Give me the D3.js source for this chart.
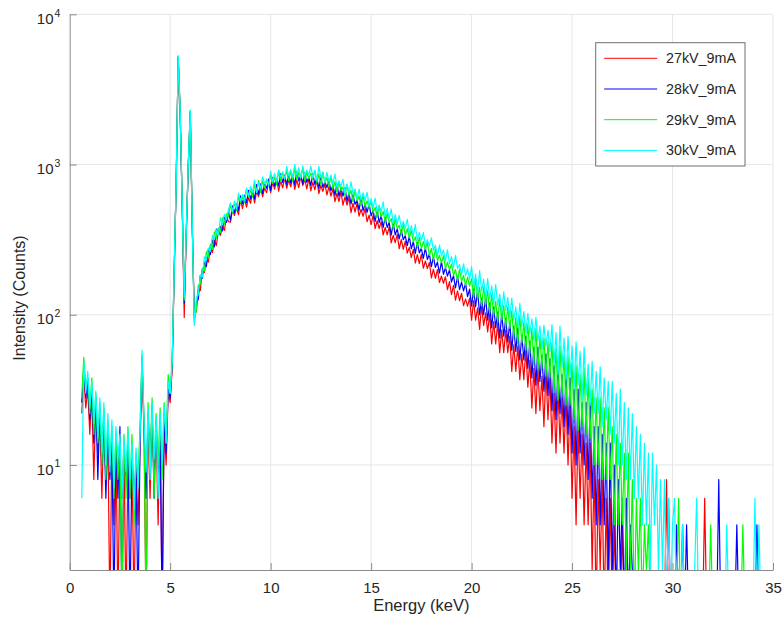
<!DOCTYPE html>
<html lang="en">
<head>
<meta charset="utf-8">
<title>Spectra</title>
<script src="https://cdn.jsdelivr.net/npm/d3@7"></script>
<style>
  body { margin: 0; background: #fff; }
  svg { display: block; background: #fff; font-family: "Liberation Sans", Arial, sans-serif; }
  .axis path, .axis line { stroke: #8a8a8a; }
  .grid line { stroke: #e6e6e6; }
</style>
</head>
<body>
<script>

// energy channels: 0.6 keV .. 35.0 keV, 0.1 keV apart
var energyStart = 0.6, energyStep = 0.1;

var seriesNames = ["27kV_9mA", "28kV_9mA", "29kV_9mA", "30kV_9mA"];
var seriesColors = ["#ff0000", "#0000ff", "#00ff00", "#00ffff"];

var counts27 = [
  22, 40, 24, 32,
  16, 30, 8, 26, 12, 22, 6, 20, 8, 16,
  0, 14, 4, 16, 0, 12, 6, 14, 0, 10,
  6, 12, 0, 10, 4, 14, 48, 16, 0, 20,
  6, 22, 8, 18, 4, 20, 0, 18, 10, 30,
  26, 44, 190, 760, 5100, 2100, 520, 96, 340, 960,
  2200, 380, 100, 105, 146, 145, 200, 191, 236, 224,
  282, 259, 313, 288, 374, 338, 391, 364, 448, 417,
  413, 503, 458, 519, 464, 585, 508, 593, 521, 603,
  551, 666, 556, 663, 612, 710, 608, 699, 650, 765,
  649, 757, 686, 804, 666, 778, 700, 820, 695, 792,
  711, 826, 683, 791, 702, 840, 724, 797, 689, 807,
  668, 764, 679, 789, 640, 726, 662, 744, 627, 712,
  616, 689, 566, 644, 567, 660, 537, 610, 537, 601,
  478, 553, 482, 554, 454, 504, 452, 509, 416, 461,
  398, 461, 374, 423, 375, 417, 340, 381, 340, 385,
  301, 338, 302, 343, 275, 317, 272, 309, 257, 281,
  240, 273, 221, 251, 219, 252, 204, 228, 203, 223,
  176, 201, 175, 200, 164, 181, 162, 179, 147, 166,
  136, 157, 125, 144, 124, 139, 115, 127, 114, 129,
  92, 124, 92, 111, 80, 115, 85, 103, 77, 101,
  64, 90, 64, 88, 56, 79, 56, 79, 56, 72,
  42, 63, 42, 62, 37, 55, 37, 58, 33, 50,
  24, 44, 22, 44, 23, 39, 18, 42, 20, 38,
  14, 30, 12, 32, 14, 28, 12, 28, 10, 26,
  6, 18, 4, 18, 6, 16, 4, 14, 4, 14,
  2, 10, 0, 8, 2, 8, 0, 6, 0, 6,
  0, 4, 0, 2, 0, 4, 0, 0, 2, 0,
  0, 0, 0, 0, 0, 0, 0, 0, 0, 0,
  0, 0, 0, 0, 0, 0, 0, 8, 0, 0,
  0, 0, 0, 0, 0, 0, 0, 0, 0, 0,
  0, 0, 0, 0, 0, 0, 6, 0, 0, 0,
  0, 0, 0, 0, 0, 0, 0, 0, 0, 0,
  0, 0, 0, 0, 0, 0, 0, 0, 0, 0,
  0, 0, 0, 0, 0, 0, 0, 0, 0, 0,
  0
];

var counts28 = [
  26, 44, 28, 36,
  20, 32, 14, 28, 8, 24, 10, 22, 6, 18,
  8, 16, 0, 14, 6, 18, 0, 12, 8, 14,
  0, 12, 6, 10, 0, 14, 52, 18, 6, 22,
  10, 24, 6, 20, 8, 18, 0, 22, 12, 32,
  28, 46, 195, 770, 5200, 2150, 530, 120, 350, 980,
  2250, 390, 95, 119, 127, 183, 175, 223, 209, 274,
  251, 314, 283, 372, 337, 387, 361, 455, 412, 482,
  427, 531, 479, 548, 496, 619, 548, 626, 557, 674,
  588, 671, 588, 734, 633, 744, 643, 741, 694, 801,
  671, 823, 718, 805, 720, 871, 757, 851, 735, 855,
  753, 861, 733, 897, 776, 852, 743, 879, 762, 824,
  725, 869, 737, 817, 695, 826, 704, 770, 702, 781,
  670, 730, 623, 742, 617, 700, 617, 703, 571, 649,
  546, 630, 544, 579, 497, 596, 494, 547, 480, 546,
  455, 494, 419, 496, 411, 459, 381, 447, 381, 412,
  339, 407, 340, 373, 320, 367, 316, 336, 289, 333,
  275, 307, 256, 303, 258, 277, 237, 279, 233, 254,
  209, 243, 207, 224, 189, 226, 186, 206, 181, 199,
  165, 182, 151, 180, 147, 165, 144, 162, 132, 148,
  114, 148, 113, 145, 100, 129, 100, 130, 92, 120,
  82, 113, 82, 104, 70, 103, 72, 95, 66, 89,
  58, 84, 57, 82, 50, 73, 50, 72, 44, 67,
  38, 61, 34, 61, 36, 54, 31, 55, 29, 51,
  23, 46, 20, 45, 22, 40, 18, 40, 16, 38,
  12, 32, 10, 32, 12, 26, 10, 26, 8, 26,
  6, 18, 4, 18, 4, 16, 4, 14, 2, 14,
  2, 10, 0, 8, 2, 6, 0, 6, 0, 4,
  2, 0, 0, 2, 0, 0, 0, 0, 0, 0,
  0, 0, 0, 0, 0, 0, 0, 0, 6, 0,
  0, 0, 4, 0, 0, 4, 0, 4, 0, 0,
  0, 0, 0, 0, 0, 0, 0, 0, 0, 0,
  0, 0, 0, 8, 0, 0, 0, 0, 0, 0,
  0, 0, 4, 0, 0, 0, 0, 0, 0, 0,
  0, 0, 4, 0, 0, 0, 0, 0, 0, 0,
  0
];

var counts29 = [
  28, 52, 34, 38,
  22, 38, 16, 30, 14, 26, 10, 24, 8, 20,
  10, 18, 6, 16, 8, 14, 0, 16, 6, 18,
  6, 16, 4, 12, 8, 18, 54, 20, 0, 26,
  10, 28, 6, 22, 10, 24, 8, 26, 14, 40,
  30, 48, 200, 775, 5250, 2180, 535, 125, 355, 990,
  2280, 395, 90, 108, 158, 161, 204, 195, 263, 243,
  295, 273, 356, 324, 378, 353, 442, 401, 470, 449,
  545, 472, 553, 495, 608, 558, 613, 561, 688, 606,
  679, 607, 737, 654, 781, 653, 774, 698, 785, 736,
  850, 749, 822, 734, 909, 768, 883, 805, 912, 781,
  906, 771, 945, 801, 889, 822, 940, 782, 890, 802,
  876, 802, 912, 755, 865, 735, 889, 750, 821, 717,
  837, 690, 769, 655, 773, 670, 708, 621, 731, 620,
  674, 568, 681, 572, 615, 533, 621, 525, 574, 514,
  571, 478, 519, 445, 532, 446, 487, 413, 474, 411,
  436, 373, 434, 374, 394, 340, 406, 336, 374, 324,
  366, 306, 330, 281, 327, 275, 308, 271, 304, 248,
  276, 231, 276, 229, 249, 222, 247, 203, 224, 199,
  218, 183, 200, 169, 201, 167, 183, 156, 178, 155,
  174, 130, 173, 127, 153, 114, 153, 117, 145, 103,
  137, 99, 123, 90, 127, 92, 115, 83, 113, 81,
  106, 71, 96, 64, 98, 65, 89, 58, 87, 55,
  81, 47, 81, 43, 72, 44, 70, 39, 66, 38,
  65, 31, 60, 27, 62, 29, 54, 25, 53, 25,
  48, 20, 46, 17, 40, 18, 44, 16, 38, 15,
  32, 10, 28, 10, 28, 8, 24, 8, 24, 8,
  18, 4, 16, 4, 14, 4, 12, 2, 12, 2,
  8, 0, 6, 2, 6, 0, 4, 2, 4, 0,
  2, 0, 0, 0, 0, 0, 0, 0, 0, 0,
  0, 0, 0, 6, 0, 0, 0, 0, 0, 0,
  0, 0, 0, 0, 0, 0, 0, 0, 0, 4,
  0, 0, 0, 0, 0, 0, 0, 0, 0, 0,
  0, 0, 0, 0, 0, 4, 0, 0, 0, 0,
  0, 0, 0, 0, 0, 0, 0, 0, 0, 0,
  0
];

var counts30 = [
  6, 48, 30, 42,
  24, 36, 19, 31, 15, 28, 12, 26, 10, 22,
  9, 20, 7, 18, 11, 16, 6, 15, 9, 17,
  8, 14, 5, 13, 7, 16, 58, 19, 9, 24,
  8, 26, 11, 21, 6, 22, 10, 25, 14, 36,
  30, 50, 200, 780, 5300, 2200, 540, 130, 360, 1000,
  2300, 400, 85, 130, 136, 184, 178, 243, 229, 278,
  264, 337, 317, 367, 336, 444, 397, 466, 429, 498,
  556, 487, 570, 510, 645, 575, 632, 578, 696, 618,
  714, 653, 788, 653, 762, 695, 829, 742, 802, 718,
  902, 772, 874, 774, 920, 827, 894, 794, 968, 840,
  927, 821, 1003, 852, 953, 810, 980, 841, 919, 853,
  976, 817, 916, 787, 971, 817, 876, 764, 888, 771,
  851, 742, 865, 704, 777, 713, 797, 646, 743, 653,
  766, 637, 686, 589, 687, 580, 649, 576, 653, 530,
  593, 514, 597, 483, 537, 484, 564, 449, 511, 438,
  506, 406, 464, 403, 458, 378, 418, 377, 431, 349,
  392, 333, 398, 312, 354, 312, 354, 288, 316, 287,
  325, 269, 290, 246, 291, 247, 270, 228, 271, 219,
  244, 207, 248, 203, 216, 185, 218, 182, 202, 172,
  209, 153, 187, 139, 197, 144, 172, 129, 174, 128,
  156, 117, 159, 116, 137, 103, 142, 107, 130, 96,
  129, 92, 113, 82, 119, 84, 105, 76, 102, 75,
  94, 68, 96, 67, 84, 59, 85, 62, 79, 57,
  86, 46, 76, 40, 84, 45, 70, 37, 72, 39,
  62, 32, 66, 34, 57, 27, 61, 29, 47, 25,
  49, 22, 42, 22, 45, 18, 38, 20, 36, 16,
  36, 14, 30, 10, 32, 10, 26, 8, 24, 8,
  22, 6, 18, 6, 16, 4, 14, 4, 12, 2,
  12, 4, 10, 2, 8, 2, 8, 0, 6, 0,
  4, 6, 0, 2, 0, 4, 0, 0, 2, 0,
  0, 2, 6, 0, 0, 0, 2, 0, 0, 0,
  0, 0, 0, 0, 0, 0, 0, 4, 0, 0,
  0, 0, 0, 0, 0, 0, 0, 0, 0, 0,
  0, 6, 0, 4, 0, 0, 0, 0, 0, 0,
  0
];

var allCounts = [counts27, counts28, counts29, counts30];

var xTicks = [0, 5, 10, 15, 20, 25, 30, 35];
var yTicks = [10, 100, 1000, 10000];
var yExponents = ["1", "2", "3", "4"];

var width = 782, height = 622;
var plotLeft = 69.7, plotRight = 773, plotTop = 14.3, plotBottom = 570;

var svg = d3.select("body").append("svg")
  .attr("width", width)
  .attr("height", height);

var x = d3.scaleLinear().domain([0, 35]).range([plotLeft, plotRight]);
var y = d3.scaleLog().domain([2, 10000]).range([plotBottom, plotTop]);

// grid
var grid = svg.append("g").attr("class", "grid");
grid.selectAll(".gx").data(xTicks.slice(1)).enter().append("line")
  .attr("x1", function(d) { return x(d); })
  .attr("x2", function(d) { return x(d); })
  .attr("y1", plotTop).attr("y2", plotBottom);
grid.selectAll(".gy").data(yTicks).enter().append("line")
  .attr("x1", plotLeft).attr("x2", plotRight)
  .attr("y1", function(d) { return y(d); })
  .attr("y2", function(d) { return y(d); });

svg.append("clipPath").attr("id", "plotclip")
  .append("rect")
  .attr("x", plotLeft).attr("y", plotTop)
  .attr("width", plotRight - plotLeft).attr("height", plotBottom - plotTop);

// zero / single counts fall below the axis floor and get clipped
var line = d3.line()
  .x(function(d, i) { return x(energyStart + i * energyStep); })
  .y(function(d) { return y(Math.max(d, 1)); });

svg.append("g").attr("clip-path", "url(#plotclip)")
  .selectAll("path")
  .data(allCounts)
  .enter().append("path")
  .attr("d", line)
  .attr("fill", "none")
  .attr("stroke", function(d, i) { return seriesColors[i]; })
  .attr("stroke-width", 1.2)
  .attr("stroke-linejoin", "round");

// axes
var xAxis = d3.axisBottom(x).tickValues(xTicks).tickSizeInner(-7).tickSizeOuter(0).tickPadding(12);
var gx = svg.append("g").attr("class", "axis")
  .attr("transform", "translate(0," + plotBottom + ")")
  .call(xAxis);
gx.selectAll("text")
  .attr("font-size", "15px")
  .attr("fill", "#262626")
  .attr("font-family", "Liberation Sans, Arial, sans-serif");

var yAxis = d3.axisLeft(y).tickValues(yTicks).tickSizeInner(-7).tickSizeOuter(0).tickFormat("");
svg.append("g").attr("class", "axis")
  .attr("transform", "translate(" + plotLeft + ",0)")
  .call(yAxis);

var ylab = svg.append("g");
yTicks.forEach(function(t, i) {
  ylab.append("text")
    .attr("x", 53.5).attr("y", y(t) + 9.7)
    .attr("text-anchor", "end")
    .attr("font-size", "15px")
    .attr("fill", "#262626")
    .text("10");
  ylab.append("text")
    .attr("x", 54.5).attr("y", y(t) + 2.4)
    .attr("font-size", "10.5px")
    .attr("fill", "#262626")
    .text(yExponents[i]);
});

svg.append("text")
  .attr("x", (plotLeft + plotRight) / 2).attr("y", 611)
  .attr("text-anchor", "middle")
  .attr("font-size", "16.5px")
  .attr("fill", "#262626")
  .text("Energy (keV)");

svg.append("text")
  .attr("transform", "translate(24.5,298) rotate(-90)")
  .attr("text-anchor", "middle")
  .attr("font-size", "16px")
  .attr("fill", "#262626")
  .text("Intensity (Counts)");

// legend
var legend = svg.append("g").attr("transform", "translate(595.7,42.7)");
legend.append("rect")
  .attr("width", 149.3).attr("height", 123.3)
  .attr("fill", "#fff")
  .attr("stroke", "#6e6e6e")
  .attr("stroke-width", 1);
var items = legend.selectAll(".item").data(seriesNames).enter().append("g")
  .attr("transform", function(d, i) { return "translate(0," + (15.6 + i * 30.7) + ")"; });
items.append("line")
  .attr("x1", 8.5).attr("x2", 61.5)
  .attr("stroke", function(d, i) { return seriesColors[i]; })
  .attr("stroke-width", 1);
items.append("text")
  .attr("x", 70.3).attr("y", 5)
  .attr("font-size", "14.3px")
  .attr("fill", "#262626")
  .text(function(d) { return d; });

</script>
</body>
</html>
